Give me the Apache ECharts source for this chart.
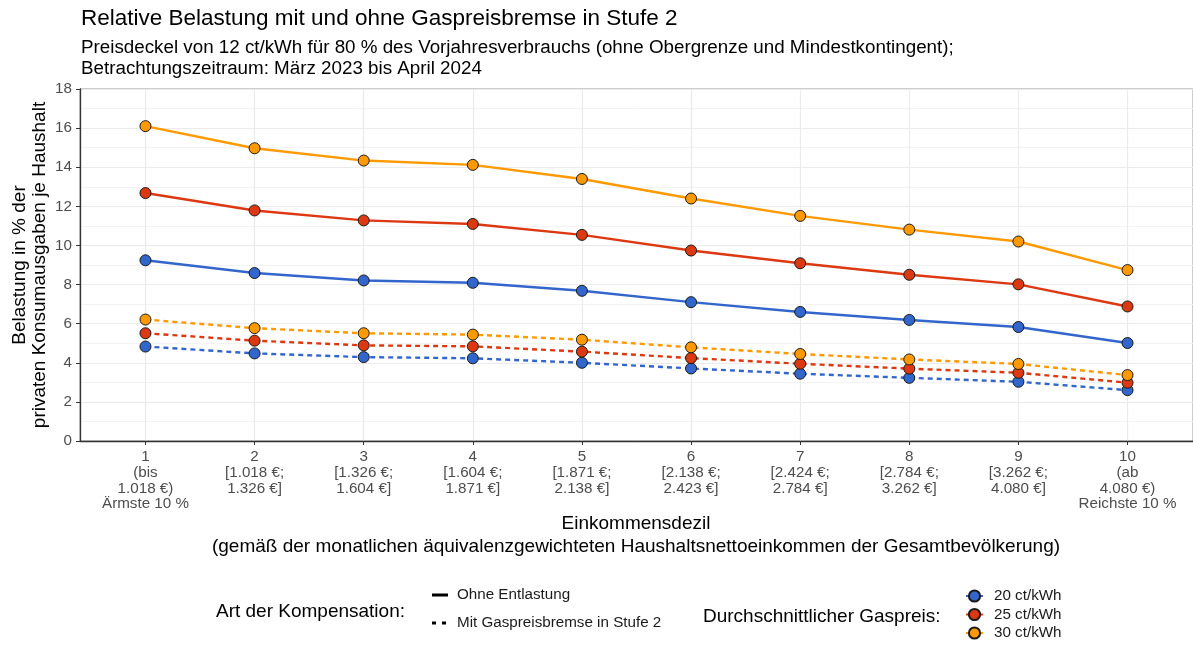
<!DOCTYPE html>
<html>
<head>
<meta charset="utf-8">
<script src="https://cdn.jsdelivr.net/npm/echarts@6/dist/echarts.min.js"></script>
<style>
    html, body { margin: 0; padding: 0; background: #fff; }
    #lineChart { width: 1193px; height: 645px; }
</style>
</head>
<body>
<div id="lineChart"></div>
<script>
/* ------ data ------ */

var deciles = [1, 2, 3, 4, 5, 6, 7, 8, 9, 10];
var decileRanges = [
    ['(bis', '1.018 €)', 'Ärmste 10 %'],
    ['[1.018 €;', '1.326 €]'],
    ['[1.326 €;', '1.604 €]'],
    ['[1.604 €;', '1.871 €]'],
    ['[1.871 €;', '2.138 €]'],
    ['[2.138 €;', '2.423 €]'],
    ['[2.424 €;', '2.784 €]'],
    ['[2.784 €;', '3.262 €]'],
    ['[3.262 €;', '4.080 €]'],
    ['(ab', '4.080 €)', 'Reichste 10 %']
];
var yTicks = [0, 2, 4, 6, 8, 10, 12, 14, 16, 18];

// ohne Entlastung
var ohne20 = [9.24, 8.59, 8.21, 8.09, 7.68, 7.10, 6.60, 6.19, 5.83, 5.01];
var ohne25 = [12.68, 11.79, 11.28, 11.10, 10.54, 9.74, 9.09, 8.50, 8.01, 6.88];
var ohne30 = [16.10, 14.97, 14.34, 14.12, 13.40, 12.40, 11.51, 10.81, 10.20, 8.74];
// mit Gaspreisbremse
var mit20 = [4.83, 4.48, 4.29, 4.23, 4.00, 3.71, 3.44, 3.23, 3.03, 2.60];
var mit25 = [5.51, 5.13, 4.89, 4.84, 4.57, 4.24, 3.95, 3.70, 3.49, 2.98];
var mit30 = [6.21, 5.77, 5.51, 5.44, 5.18, 4.79, 4.45, 4.17, 3.94, 3.37];

var priceNames = ['20 ct/kWh', '25 ct/kWh', '30 ct/kWh'];
var priceColors = ['#3366cc', '#dc3912', '#ff9900'];
var typeNames = ['Ohne Entlastung', 'Mit Gaspreisbremse in Stufe 2'];

/* ------ chart ------ */

var lineChart = echarts.init(document.getElementById('lineChart'));
var font = 'Liberation Sans, Arial, sans-serif';

function makeSeries(name, values, color, dashed) {
    return {
        name: name,
        type: 'line',
        data: deciles.map(function (d, i) { return [d, values[i]]; }),
        symbol: 'circle',
        symbolSize: 11,
        z: dashed ? 2 : 3,
        lineStyle: { color: color, width: 2.4, type: dashed ? [5, 4] : 'solid' },
        itemStyle: { color: color, borderColor: '#1a1a1a', borderWidth: 1 },
        emphasis: { disabled: true }
    };
}

var series = [
    makeSeries(priceNames[0], ohne20, priceColors[0], false),
    makeSeries(priceNames[1], ohne25, priceColors[1], false),
    makeSeries(priceNames[2], ohne30, priceColors[2], false),
    makeSeries(priceNames[0], mit20, priceColors[0], true),
    makeSeries(priceNames[1], mit25, priceColors[1], true),
    makeSeries(priceNames[2], mit30, priceColors[2], true),
    // nur fuer die Legende (Linientyp)
    { name: typeNames[0], type: 'line', data: [], symbol: 'none', color: '#000' },
    { name: typeNames[1], type: 'line', data: [], symbol: 'none', color: '#000' }
];

option = {
    animation: false,
    backgroundColor: '#fff',
    textStyle: { fontFamily: font },
    title: {
        left: 81,
        top: 6,
        padding: 0,
        text: 'Relative Belastung mit und ohne Gaspreisbremse in Stufe 2',
        subtext: 'Preisdeckel von 12 ct/kWh für 80 % des Vorjahresverbrauchs (ohne Obergrenze und Mindestkontingent);\nBetrachtungszeitraum: März 2023 bis April 2024',
        itemGap: 5,
        textStyle: { fontFamily: font, fontSize: 22.5, fontWeight: 'normal', color: '#000', lineHeight: 26 },
        subtextStyle: { fontFamily: font, fontSize: 18.8, color: '#000', lineHeight: 21 }
    },
    grid: {
        left: 80,
        right: 0,
        top: 89,
        bottom: 204,
        show: true,
        borderColor: '#9a9a9a',
        borderWidth: 1
    },
    xAxis: {
        type: 'value',
        min: 0.4,
        max: 10.6,
        axisLine: { show: true, onZero: false, lineStyle: { color: '#333', width: 1.3 } },
        axisTick: { show: true, length: 4, customValues: deciles, lineStyle: { color: '#333' } },
        splitLine: { show: true, lineStyle: { color: '#ebebeb', width: 1.2 } },
        axisLabel: {
            customValues: deciles,
            margin: 8,
            color: '#4d4d4d',
            fontFamily: font,
            fontSize: 15.2,
            lineHeight: 15.8,
            formatter: function (v) {
                var i = Math.round(v) - 1;
                return [String(deciles[i])].concat(decileRanges[i]).join('\n');
            }
        }
    },
    yAxis: {
        type: 'value',
        min: 0,
        max: 18,
        interval: 2,
        axisLine: { show: true, lineStyle: { color: '#333', width: 1.3 } },
        axisTick: { show: true, length: 4, lineStyle: { color: '#333' } },
        minorTick: { show: false, splitNumber: 2 },
        splitLine: { show: true, lineStyle: { color: '#ebebeb', width: 1.2 } },
        minorSplitLine: { show: true, lineStyle: { color: '#f3f3f3', width: 1 } },
        axisLabel: {
            margin: 8,
            color: '#4d4d4d',
            fontSize: 15.2,
            fontFamily: font,
            formatter: function (v) { return yTicks.indexOf(v) >= 0 ? String(v) : ''; }
        }
    },
    legend: [
        {
            data: [
                { name: typeNames[0], icon: 'path://M0,0H16V3H0Z' },
                { name: typeNames[1], icon: 'path://M0,0H4V3H0Z M10,0H14V3H10Z M16,0H16V3H16Z' }
            ],
            orient: 'vertical',
            left: 432,
            top: 587,
            padding: 0,
            itemWidth: 16,
            itemHeight: 3,
            itemGap: 12,
            selectedMode: false,
            itemStyle: { color: '#000', borderWidth: 0, opacity: 1 },
            lineStyle: { width: 0 },
            textStyle: { fontFamily: font, fontSize: 15.2, lineHeight: 16, color: '#1a1a1a', padding: [0, 0, 0, 4] }
        },
        {
            data: priceNames,
            orient: 'vertical',
            left: 965,
            top: 588,
            padding: 0,
            itemWidth: 17,
            itemHeight: 14,
            itemGap: 2.5,
            selectedMode: false,
            textStyle: { fontFamily: font, fontSize: 15.2, lineHeight: 16, color: '#1a1a1a', padding: [0, 0, 0, 6] }
        }
    ],
    graphic: [
        {
            type: 'text', x: 30, y: 265, rotation: Math.PI / 2,
            style: {
                text: 'Belastung in % der\nprivaten Konsumausgaben je Haushalt',
                align: 'center', verticalAlign: 'middle', lineHeight: 20,
                font: '19px ' + font, fill: '#000'
            }
        },
        {
            type: 'text', x: 636, y: 535.5,
            style: {
                text: 'Einkommensdezil\n(gemäß der monatlichen äquivalenzgewichteten Haushaltsnettoeinkommen der Gesamtbevölkerung)',
                align: 'center', verticalAlign: 'middle', lineHeight: 23,
                font: '19px ' + font, fill: '#000'
            }
        },
        {
            type: 'text', x: 405, y: 612,
            style: { text: 'Art der Kompensation:', align: 'right', verticalAlign: 'middle', font: '19px ' + font, fill: '#000' }
        },
        {
            type: 'text', x: 703, y: 617,
            style: { text: 'Durchschnittlicher Gaspreis:', align: 'left', verticalAlign: 'middle', font: '19px ' + font, fill: '#000' }
        }
    ],
    series: series
};
lineChart.setOption(option);
</script>
</body>
</html>
